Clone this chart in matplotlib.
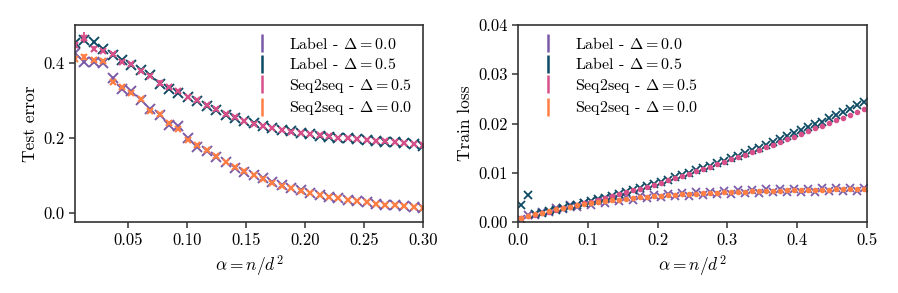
import matplotlib
matplotlib.use("Agg")
import matplotlib.pyplot as plt
from matplotlib.lines import Line2D

plt.rcParams['font.family'] = ['cmr10', 'DejaVu Serif']
plt.rcParams['mathtext.fontset'] = 'cm'
plt.rcParams['axes.formatter.use_mathtext'] = True
plt.rcParams['font.size'] = 12

# ---------------- data: left panel (test error) ----------------
alpha_left = [0.0050, 0.0130, 0.0209, 0.0289, 0.0369, 0.0449, 0.0528, 0.0608,
              0.0688, 0.0768, 0.0847, 0.0927, 0.1007, 0.1086, 0.1166, 0.1246,
              0.1326, 0.1405, 0.1485, 0.1565, 0.1645, 0.1724, 0.1804, 0.1884,
              0.1964, 0.2043, 0.2123, 0.2203, 0.2282, 0.2362, 0.2442, 0.2522,
              0.2601, 0.2681, 0.2761, 0.2841, 0.2920, 0.3000]

test_label_d00 = [0.426, 0.403, 0.402, 0.400, 0.360, 0.330, 0.325, 0.300,
                  0.278, 0.262, 0.235, 0.232, 0.200, 0.175, 0.165, 0.150,
                  0.135, 0.120, 0.110, 0.100, 0.092, 0.083, 0.075, 0.067,
                  0.060, 0.053, 0.048, 0.043, 0.039, 0.035, 0.031, 0.028,
                  0.025, 0.022, 0.020, 0.018, 0.016, 0.013]
test_label_d05 = [0.453, 0.461, 0.456, 0.437, 0.421, 0.408, 0.395, 0.381,
                  0.368, 0.343, 0.330, 0.320, 0.309, 0.298, 0.284, 0.275,
                  0.262, 0.253, 0.244, 0.240, 0.231, 0.226, 0.221, 0.218,
                  0.213, 0.210, 0.206, 0.203, 0.201, 0.199, 0.196, 0.194,
                  0.192, 0.190, 0.188, 0.186, 0.183, 0.179]
test_seq_d05 = [0.448, 0.467, 0.438, 0.432, 0.425, 0.402, 0.398, 0.379,
                0.365, 0.347, 0.336, 0.324, 0.310, 0.300, 0.287, 0.277,
                0.265, 0.255, 0.246, 0.238, 0.232, 0.227, 0.222, 0.217,
                0.213, 0.210, 0.207, 0.204, 0.201, 0.199, 0.197, 0.195,
                0.193, 0.191, 0.189, 0.187, 0.184, 0.181]
test_seq_d05_err = [0.010, 0.015, 0.006, 0.004, 0.004, 0.004, 0.004, 0.004,
                    0.004, 0.008, 0.004, 0.003, 0.003, 0.003, 0.003, 0.003,
                    0.003, 0.003, 0.003, 0.003, 0.003, 0.003, 0.003, 0.003,
                    0.003, 0.003, 0.003, 0.003, 0.003, 0.003, 0.003, 0.003,
                    0.003, 0.003, 0.003, 0.003, 0.003, 0.003]
test_seq_d00 = [0.410, 0.415, 0.408, 0.405, 0.350, 0.335, 0.320, 0.305,
                0.272, 0.265, 0.240, 0.225, 0.195, 0.180, 0.168, 0.152,
                0.137, 0.122, 0.112, 0.102, 0.090, 0.081, 0.073, 0.066,
                0.059, 0.053, 0.048, 0.043, 0.039, 0.035, 0.031, 0.028,
                0.025, 0.022, 0.020, 0.018, 0.016, 0.014]
test_seq_d00_err = [0.008, 0.008, 0.005, 0.004, 0.004, 0.004, 0.004, 0.004,
                    0.004, 0.004, 0.004, 0.004, 0.004, 0.003, 0.003, 0.003,
                    0.003, 0.003, 0.003, 0.003, 0.003, 0.003, 0.003, 0.003,
                    0.003, 0.003, 0.003, 0.003, 0.003, 0.003, 0.003, 0.003,
                    0.003, 0.003, 0.003, 0.003, 0.003, 0.003]

# ---------------- data: right panel (train loss) ----------------
alpha_right = [0.005, 0.015, 0.025, 0.035, 0.045, 0.055, 0.065, 0.075, 0.085, 0.095,
               0.105, 0.115, 0.125, 0.135, 0.145, 0.155, 0.165, 0.175, 0.185, 0.195,
               0.205, 0.215, 0.225, 0.235, 0.245, 0.255, 0.265, 0.275, 0.285, 0.295,
               0.305, 0.315, 0.325, 0.335, 0.345, 0.355, 0.365, 0.375, 0.385, 0.395,
               0.405, 0.415, 0.425, 0.435, 0.445, 0.455, 0.465, 0.475, 0.485, 0.495]

train_label_d05 = [0.0034, 0.0054, 0.0016, 0.0019, 0.0022, 0.0025, 0.0028, 0.0032, 0.0035, 0.0039,
                   0.0042, 0.0046, 0.0049, 0.0053, 0.0057, 0.0061, 0.0065, 0.0069, 0.0074, 0.0078,
                   0.0082, 0.0086, 0.0091, 0.0095, 0.0100, 0.0105, 0.0110, 0.0114, 0.0119, 0.0124,
                   0.0130, 0.0135, 0.0140, 0.0146, 0.0151, 0.0157, 0.0162, 0.0168, 0.0174, 0.0180,
                   0.0186, 0.0192, 0.0198, 0.0204, 0.0211, 0.0217, 0.0224, 0.0230, 0.0237, 0.0244]
train_seq_d05 = [0.0009, 0.0012, 0.0015, 0.0018, 0.0021, 0.0024, 0.0028, 0.0031, 0.0034, 0.0038,
                 0.0041, 0.0045, 0.0048, 0.0052, 0.0056, 0.0060, 0.0064, 0.0068, 0.0072, 0.0076,
                 0.0080, 0.0085, 0.0089, 0.0094, 0.0098, 0.0103, 0.0107, 0.0112, 0.0117, 0.0122,
                 0.0127, 0.0132, 0.0137, 0.0142, 0.0147, 0.0152, 0.0157, 0.0163, 0.0168, 0.0173,
                 0.0179, 0.0184, 0.0190, 0.0195, 0.0201, 0.0207, 0.0212, 0.0218, 0.0224, 0.0230]
train_label_d00 = [0.0006, 0.0015, 0.0014, 0.0021, 0.0020, 0.0029, 0.0027, 0.0034, 0.0031, 0.0039,
                   0.0035, 0.0043, 0.0039, 0.0047, 0.0042, 0.0050, 0.0045, 0.0053, 0.0048, 0.0055,
                   0.0050, 0.0057, 0.0052, 0.0059, 0.0053, 0.0060, 0.0055, 0.0061, 0.0056, 0.0063,
                   0.0057, 0.0064, 0.0058, 0.0065, 0.0059, 0.0066, 0.0060, 0.0067, 0.0060, 0.0068,
                   0.0061, 0.0068, 0.0061, 0.0069, 0.0062, 0.0069, 0.0062, 0.0070, 0.0063, 0.0070]
train_seq_d00 = [0.0009, 0.0012, 0.0016, 0.0019, 0.0023, 0.0026, 0.0029, 0.0031, 0.0034, 0.0036,
                 0.0038, 0.0040, 0.0042, 0.0044, 0.0045, 0.0047, 0.0048, 0.0050, 0.0051, 0.0052,
                 0.0053, 0.0054, 0.0055, 0.0056, 0.0056, 0.0057, 0.0058, 0.0058, 0.0059, 0.0060,
                 0.0060, 0.0061, 0.0061, 0.0062, 0.0062, 0.0063, 0.0063, 0.0063, 0.0064, 0.0064,
                 0.0064, 0.0065, 0.0065, 0.0065, 0.0065, 0.0066, 0.0066, 0.0066, 0.0066, 0.0066]

labels = [r'Label - $\Delta = 0.0$', r'Label - $\Delta = 0.5$',
          r'Seq2seq - $\Delta = 0.5$', r'Seq2seq - $\Delta = 0.0$']
colors = ['#7a5aa8', '#0d4a63', '#d8508a', '#ff7f45']

fig = plt.figure(figsize=(8.98, 2.93), dpi=100)
ax1 = fig.add_axes([75/898, 71/293, 348/898, 197/293])
ax2 = fig.add_axes([518/898, 71/293, 349/898, 197/293])

# left panel
ax1.plot(alpha_left, test_label_d00, 'x', color=colors[0], ms=7, mew=1.4)
ax1.plot(alpha_left, test_label_d05, 'x', color=colors[1], ms=7, mew=1.4)
ax1.errorbar(alpha_left, test_seq_d05, yerr=test_seq_d05_err, fmt='x', color=colors[2],
             ms=4, mew=1.6, elinewidth=1.3, capsize=0)
ax1.errorbar(alpha_left, test_seq_d00, yerr=test_seq_d00_err, fmt='x', color=colors[3],
             ms=4, mew=1.6, elinewidth=1.3, capsize=0)
ax1.set_xlim(0.005, 0.30)
ax1.set_ylim(-0.024, 0.501)
ax1.set_xticks([0.05, 0.10, 0.15, 0.20, 0.25, 0.30])
ax1.set_xticklabels(['0.05', '0.10', '0.15', '0.20', '0.25', '0.30'])
ax1.set_yticks([0.0, 0.2, 0.4])
ax1.set_yticklabels(['0.0', '0.2', '0.4'])
ax1.set_xlabel(r'$\alpha = n/d^2$', fontsize=12.5)
ax1.set_ylabel('Test error', fontsize=12.5)

# right panel
ax2.plot(alpha_right, train_label_d00, 'x', color=colors[0], ms=6, mew=1.3)
ax2.plot(alpha_right, train_label_d05, 'x', color=colors[1], ms=6, mew=1.3)
ax2.plot(alpha_right, train_seq_d05, 'o', color=colors[2], ms=3)
ax2.plot(alpha_right, train_seq_d00, 'o', color=colors[3], ms=3)
ax2.set_xlim(0.0, 0.5)
ax2.set_ylim(0.0, 0.04)
ax2.set_xticks([0.0, 0.1, 0.2, 0.3, 0.4, 0.5])
ax2.set_xticklabels(['0.0', '0.1', '0.2', '0.3', '0.4', '0.5'])
ax2.set_yticks([0.0, 0.01, 0.02, 0.03, 0.04])
ax2.set_yticklabels(['0.00', '0.01', '0.02', '0.03', '0.04'])
ax2.set_xlabel(r'$\alpha = n/d^2$', fontsize=12.5)
ax2.set_ylabel('Train loss', fontsize=12.5)

handles = [Line2D([], [], color=c, marker='|', linestyle='None', ms=13, mew=1.8) for c in colors]

for ax in (ax1, ax2):
    for s in ax.spines.values():
        s.set_color('#333333')
        s.set_linewidth(1.2)
    ax.tick_params(direction='out', length=4, width=1.1, color='#333333', labelsize=12)

leg_kw = dict(loc='upper left', frameon=False, fontsize=11.5, handlelength=2.0,
              handletextpad=0.7, labelspacing=0.28, borderpad=0.0, borderaxespad=0.0)
ax1.legend(handles, labels, bbox_to_anchor=(0.491, 0.945), **leg_kw)
ax2.legend(handles, labels, bbox_to_anchor=(0.040, 0.945), **leg_kw)

fig.savefig('out.png', dpi=100)
